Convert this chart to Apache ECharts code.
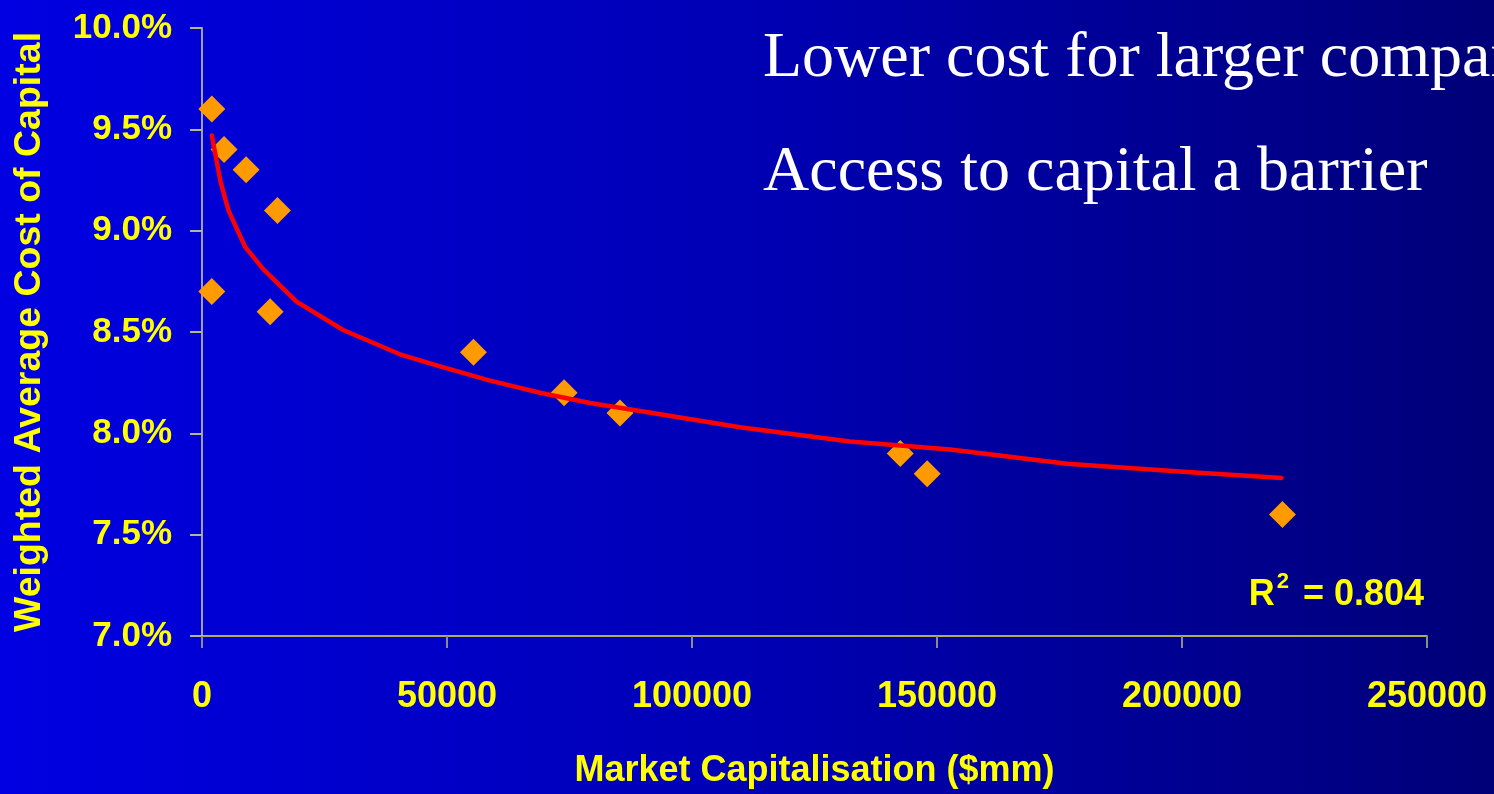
<!DOCTYPE html>
<html>
<head>
<meta charset="utf-8">
<title>Weighted Average Cost of Capital vs Market Capitalisation</title>
<script src="https://cdn.jsdelivr.net/npm/echarts@6/dist/echarts.min.js"></script>
<style>
  html, body { margin: 0; padding: 0; width: 100%; height: 100%; overflow: hidden; }
  #chart { width: 1494px; height: 794px; }
</style>
</head>
<body>
<div id="chart"></div>
<script>
// Market capitalisation ($mm) and WACC (%) per company
const marketCap = [2000, 4500, 9000, 15400, 2000, 13900, 55400, 73900, 85300, 142500, 148000, 220500];
const wacc      = [9.6, 9.4, 9.3, 9.1, 8.7, 8.6, 8.4, 8.2, 8.1, 7.9, 7.8, 7.6];

// Logarithmic trend line (sample points along the fitted curve)
const trendCap  = [2000, 3800, 5400, 8800, 12500, 19300, 28800, 40400, 48600, 58800, 69000, 79200, 89400, 109800, 132200, 152700, 176500, 200300, 220300];
const trendWacc = [9.47, 9.24, 9.10, 8.92, 8.81, 8.65, 8.51, 8.39, 8.33, 8.26, 8.20, 8.15, 8.11, 8.03, 7.96, 7.92, 7.85, 7.81, 7.78];

const rSquared = '0.804';
const headlines = ['Lower cost for larger companies', 'Access to capital a barrier'];

const yellow = '#FFFF00';
const sans = '"Liberation Sans", Arial, sans-serif';
const serif = '"Liberation Serif", "Times New Roman", serif';

const chart = echarts.init(document.getElementById('chart'));

chart.setOption({
  animation: false,
  backgroundColor: {
    type: 'linear', x: 0, y: 0, x2: 1, y2: 0,
    colorStops: [
      { offset: 0, color: '#0000E2' },
      { offset: 0.5, color: '#0000B4' },
      { offset: 1, color: '#000078' }
    ]
  },
  grid: { left: 202, top: 28, right: 67, bottom: 157 },
  xAxis: {
    type: 'value',
    min: 0, max: 250000, interval: 50000,
    name: 'Market Capitalisation ($mm)',
    nameLocation: 'middle',
    nameGap: 117,
    nameTextStyle: { color: yellow, fontFamily: sans, fontWeight: 'bold', fontSize: 36 },
    axisLine: { show: true, lineStyle: { color: '#E8E840', width: 1.5 } },
    axisTick: { show: true, length: 12, lineStyle: { color: '#8C8C8C', width: 2 } },
    axisLabel: {
      color: yellow, fontFamily: sans, fontWeight: 'bold', fontSize: 36, margin: 43,
      formatter: v => String(v)
    },
    splitLine: { show: false }
  },
  yAxis: {
    type: 'value',
    min: 7, max: 10, interval: 0.5,
    name: 'Weighted Average Cost of Capital',
    nameLocation: 'middle',
    nameGap: 153,
    nameTextStyle: { color: yellow, fontFamily: sans, fontWeight: 'bold', fontSize: 37.5 },
    axisLine: { show: true, lineStyle: { color: '#A0A0A0', width: 2 } },
    axisTick: { show: true, length: 12, lineStyle: { color: '#B8B890', width: 2 } },
    axisLabel: {
      color: yellow, fontFamily: sans, fontWeight: 'bold', fontSize: 35, margin: 30,
      formatter: v => v.toFixed(1) + '%'
    },
    splitLine: { show: false }
  },
  series: [
    {
      type: 'scatter',
      data: marketCap.map((c, i) => [c, wacc[i]]),
      symbol: 'diamond',
      symbolSize: 27,
      itemStyle: { color: '#FF9A00', opacity: 1 },
      z: 2
    },
    {
      type: 'line',
      data: trendCap.map((c, i) => [c, trendWacc[i]]),
      showSymbol: false,
      smooth: false,
      lineStyle: { color: '#FF0000', width: 4.5, cap: 'round', join: 'round' },
      z: 3
    }
  ],
  graphic: [
    {
      type: 'text', left: 763, top: 27, silent: true,
      style: { text: headlines[0], fill: '#FFFFFF', font: '64px ' + serif }
    },
    {
      type: 'text', left: 763, top: 141, silent: true,
      style: { text: headlines[1], fill: '#FFFFFF', font: '64px ' + serif }
    },
    {
      type: 'text', right: 70, top: 571, silent: true,
      style: {
        text: '{r|R}{s|2}{r| = ' + rSquared + '}',
        rich: {
          r: { fill: yellow, fontFamily: sans, fontWeight: 'bold', fontSize: 36, verticalAlign: 'bottom' },
          s: { fill: yellow, fontFamily: sans, fontWeight: 'bold', fontSize: 22, verticalAlign: 'top', padding: [0, 4, 20, 2] }
        }
      }
    }
  ]
});
</script>
</body>
</html>
